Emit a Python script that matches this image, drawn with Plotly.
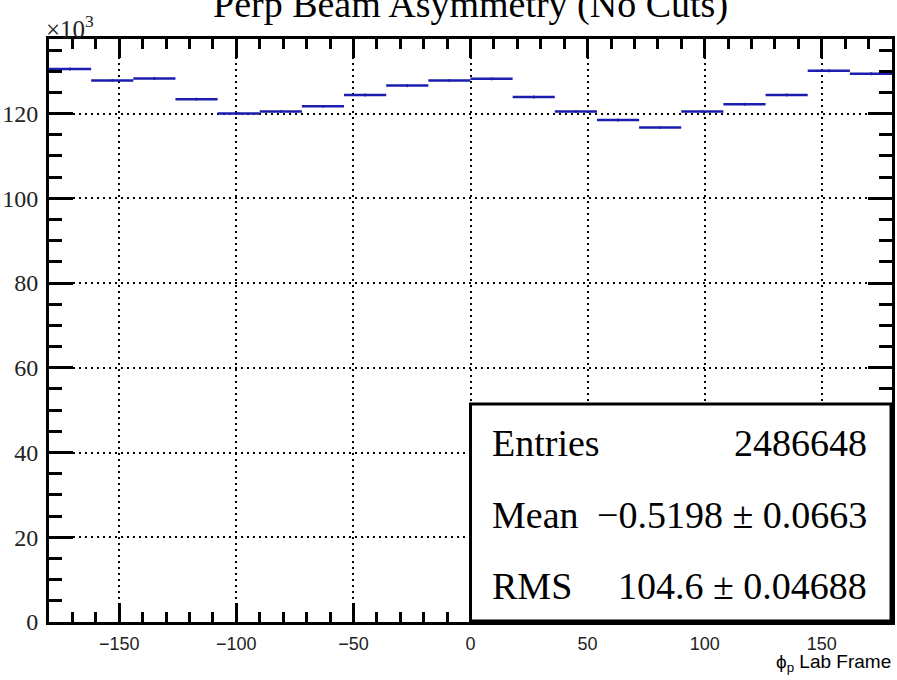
import numpy as np
import plotly.graph_objects as go

# Histogram of phi_p in the lab frame: 20 bins of 18 degrees over [-180, 180]
bin_edges = np.linspace(-180.0, 180.0, 21)
bin_centers = 0.5 * (bin_edges[:-1] + bin_edges[1:])
half_width = 0.5 * (bin_edges[1:] - bin_edges[:-1])

counts = [130500, 127800, 128300, 123400, 120000,
          120500, 121700, 124400, 126600, 127800,
          128200, 123900, 120500, 118500, 116700,
          120500, 122200, 124400, 130100, 129400]
errors = np.sqrt(counts)

title_text = "Perp Beam Asymmetry (No Cuts)"
x_title = "ϕ<sub>p</sub> Lab Frame"
x_ticks = [-150, -100, -50, 0, 50, 100, 150]
y_ticks = [0, 20000, 40000, 60000, 80000, 100000, 120000]
y_tick_labels = ["0", "20", "40", "60", "80", "100", "120"]

stat_labels = ["Entries", "Mean", "RMS"]
stat_values = ["2486648", "−0.5198 ± 0.0663", "104.6 ± 0.04688"]

W, H = 897, 680
L, R, T, B = 49, 895, 39, 622


def px_x(p):
    return (p - L) / (R - L)


def px_y(p):
    return (B - p) / (B - T)


SERIF = "Liberation Serif, Times New Roman, serif"
SANS = "Liberation Sans, Arial, Helvetica, sans-serif"
BLUE = "#1c1cae"

fig = go.Figure()
fig.add_trace(go.Scatter(
    x=bin_centers, y=counts, mode="markers",
    marker=dict(size=2, color=BLUE, opacity=0),
    error_x=dict(type="data", array=half_width, color=BLUE, thickness=2.5, width=0),
    error_y=dict(type="data", array=errors, color=BLUE, thickness=1.5, width=0),
    hoverinfo="skip", showlegend=False,
))

fig.update_layout(
    width=W, height=H,
    margin=dict(l=L, r=W - R, t=T, b=H - B, pad=0),
    paper_bgcolor="white", plot_bgcolor="white",
    showlegend=False,
)

fig.update_xaxes(
    range=[-180, 180], tickvals=x_ticks,
    ticks="inside", ticklen=19, tickwidth=3, tickcolor="black",
    minor=dict(ticks="inside", ticklen=10, tickwidth=3, tickcolor="black", dtick=10, tick0=0,
               showgrid=False),
    showline=True, linewidth=3, linecolor="black", mirror="ticks",
    showgrid=True, gridcolor="black", gridwidth=1.5, griddash="2px,4px",
    zeroline=False,
    tickfont=dict(family=SANS, size=18, color="#222"),
    ticklabelstandoff=3,
)
fig.update_yaxes(
    range=[0, 137600], tickvals=y_ticks, ticktext=y_tick_labels,
    ticks="inside", ticklen=24, tickwidth=3, tickcolor="black",
    minor=dict(ticks="inside", ticklen=13, tickwidth=3, tickcolor="black", dtick=5000, tick0=0,
               showgrid=False),
    showline=True, linewidth=3, linecolor="black", mirror="ticks",
    showgrid=True, gridcolor="black", gridwidth=1.5, griddash="2px,4px",
    zeroline=False,
    tickfont=dict(family=SERIF, size=24, color="#222"),
    ticklabelstandoff=3,
)

# Statistics box
fig.add_shape(type="rect", xref="paper", yref="paper",
              x0=px_x(472), x1=px_x(894), y0=px_y(621), y1=px_y(404),
              line=dict(color="black", width=3), fillcolor="white", layer="above")

baselines = [455, 527, 598]
for lab, val, yb in zip(stat_labels, stat_values, baselines):
    fig.add_annotation(xref="paper", yref="paper", x=px_x(492), y=px_y(yb - 12),
                       xanchor="left", yanchor="middle", text=lab, showarrow=False,
                       font=dict(family=SERIF, size=38, color="black"))
    fig.add_annotation(xref="paper", yref="paper", x=px_x(872), y=px_y(yb - 12),
                       xanchor="right", yanchor="middle", text=val, showarrow=False,
                       font=dict(family=SERIF, size=38, color="black"))

# Title
fig.add_annotation(xref="paper", yref="paper", x=px_x(472), y=1, yshift=35,
                   xanchor="center", yanchor="middle", text=title_text, showarrow=False,
                   font=dict(family=SERIF, size=38, color="black"))

# Axis exponent
fig.add_annotation(xref="paper", yref="paper", x=px_x(44), y=1, yshift=-6,
                   xanchor="left", yanchor="bottom", text="×10<sup>3</sup>", showarrow=False,
                   font=dict(family=SERIF, size=25, color="#222"))

# X axis title
fig.add_annotation(xref="paper", yref="paper", x=px_x(896), y=px_y(663),
                   xanchor="right", yanchor="middle", text=x_title, showarrow=False,
                   font=dict(family=SANS, size=19, color="black"))

fig.write_html("out.html")
